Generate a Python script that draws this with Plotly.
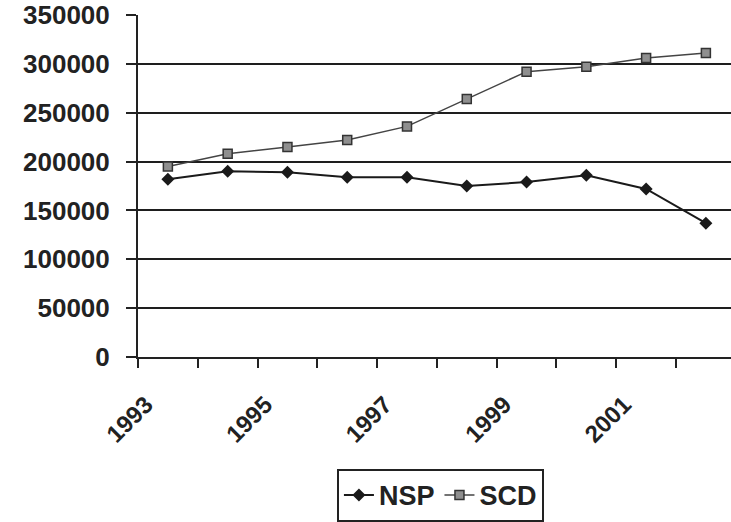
import plotly.graph_objects as go

years = ["1993", "1994", "1995", "1996", "1997", "1998", "1999", "2000", "2001", "2002"]
year_labels = ["1993", "", "1995", "", "1997", "", "1999", "", "2001", ""]
nsp = [182000, 190000, 189000, 184000, 184000, 175000, 179000, 186000, 172000, 137000]
scd = [195000, 208000, 215000, 222000, 236000, 264000, 292000, 297000, 306000, 311000]
y_ticks = [0, 50000, 100000, 150000, 200000, 250000, 300000, 350000]

FONT = "Liberation Sans, Arial, sans-serif"

fig = go.Figure()
fig.add_trace(go.Scatter(
    x=years, y=nsp, name="NSP", mode="lines+markers",
    line=dict(color="#1a1a1a", width=2),
    marker=dict(symbol="diamond", size=10, color="#1a1a1a"),
))
fig.add_trace(go.Scatter(
    x=years, y=scd, name="SCD", mode="lines+markers",
    line=dict(color="#444444", width=1.5),
    marker=dict(symbol="square", size=9, color="#8f8f8f",
                line=dict(color="#333333", width=1.5)),
))

fig.update_layout(
    width=731, height=522,
    margin=dict(l=138, r=0, t=15, b=161),
    paper_bgcolor="white", plot_bgcolor="white",
    font=dict(family=FONT, color="#222222"),
    showlegend=True,
    legend=dict(
        orientation="h", x=0.51, xanchor="center", y=-0.327, yanchor="top",
        font=dict(family=FONT, size=27, weight="bold", color="#222222"),
        bordercolor="#222222", borderwidth=2, bgcolor="white",
        itemwidth=30, tracegroupgap=0,
    ),
    xaxis=dict(
        type="category", range=[-0.5, 9.42],
        tickmode="array", tickvals=years, ticktext=year_labels,
        tickson="boundaries", ticks="outside", ticklen=9, tickwidth=2,
        tickcolor="#222222", tickangle=-45,
        tickfont=dict(family=FONT, size=24, weight="bold", color="#222222"),
        ticklabelstandoff=22, ticklabelshift=-22,
        showline=True, linecolor="#222222", linewidth=2,
        showgrid=False, zeroline=False,
    ),
    yaxis=dict(
        range=[0, 350000], tickmode="array", tickvals=y_ticks,
        tickformat="d", ticks="outside", ticklen=10, tickwidth=2,
        tickcolor="#222222",
        tickfont=dict(family=FONT, size=26, weight="bold", color="#222222"),
        showline=True, linecolor="#222222", linewidth=2,
        showgrid=True, gridcolor="#1e1e1e", gridwidth=2,
        zeroline=False, ticklabelstandoff=11,
    ),
)

fig.write_html("out.html", config={"displayModeBar": False},
               post_script="document.body.style.margin='0';")
